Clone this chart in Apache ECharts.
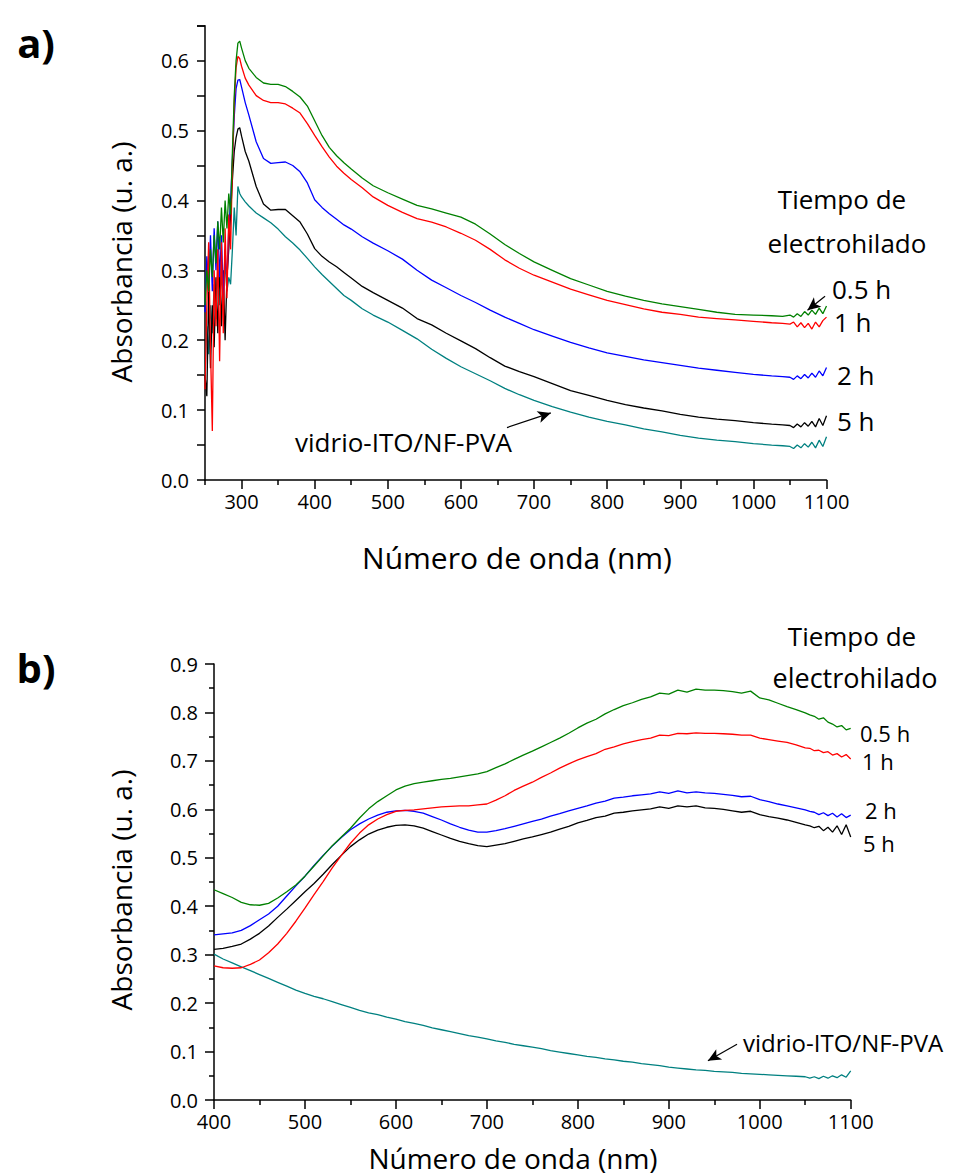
<!DOCTYPE html>
<html>
<head>
<meta charset="utf-8">
<title>Absorbancia vs número de onda</title>
<script src="https://cdn.jsdelivr.net/npm/echarts@6/dist/echarts.min.js"></script>
<style>
  html, body { margin: 0; padding: 0; background: #fff; }
  #chart { width: 954px; height: 1176px; }
</style>
</head>
<body>
<div id="chart"></div>
<script>
// ---- panel a) datos ----
const TOP_X = [250, 252.5, 255, 257.5, 260, 262.5, 265, 267.5, 270, 272.5, 275, 277.5, 280, 282.5, 285, 287.5, 290, 292.5, 295, 297.5,
  300, 305, 310,
  320, 330, 340, 350, 360, 370, 380, 390, 400, 410, 420, 430, 440, 450,
  465, 480,
  500, 520, 540, 560, 580, 600, 620, 640, 660, 680, 700,
  725, 750, 775, 800, 825, 850, 875, 900, 925, 950, 975, 1000, 1025,
  1040,
  1050, 1055, 1060, 1065, 1070, 1075, 1080, 1085, 1090, 1095, 1100]
const TOP_05H = [0.25, 0.30, 0.27, 0.33, 0.29, 0.35, 0.31, 0.37, 0.33, 0.39, 0.34, 0.40, 0.36, 0.41, 0.38, 0.47, 0.55, 0.60, 0.625, 0.628,
  0.618, 0.600, 0.589,
  0.576, 0.568, 0.566, 0.566, 0.563, 0.556, 0.548, 0.535, 0.514, 0.493, 0.476, 0.464, 0.454, 0.445,
  0.432, 0.421,
  0.411, 0.402, 0.393, 0.388, 0.382, 0.376, 0.366, 0.352, 0.337, 0.324, 0.312,
  0.300, 0.288, 0.279, 0.270, 0.263, 0.257, 0.252, 0.248, 0.244, 0.240, 0.237, 0.236, 0.235,
  0.234,
  0.236, 0.233, 0.238, 0.234, 0.241, 0.236, 0.243, 0.237, 0.246, 0.238, 0.249]
const TOP_1H = [0.13, 0.25, 0.34, 0.19, 0.07, 0.30, 0.22, 0.33, 0.17, 0.34, 0.21, 0.36, 0.26, 0.38, 0.33, 0.45, 0.54, 0.59, 0.606, 0.603,
  0.592, 0.575, 0.565,
  0.550, 0.543, 0.540, 0.540, 0.538, 0.532, 0.525, 0.510, 0.493, 0.477, 0.462, 0.449, 0.439, 0.430,
  0.418, 0.405,
  0.393, 0.383, 0.374, 0.369, 0.362, 0.353, 0.343, 0.330, 0.315, 0.303, 0.293,
  0.283, 0.273, 0.265, 0.257, 0.251, 0.245, 0.240, 0.237, 0.233, 0.231, 0.229, 0.227, 0.225,
  0.224,
  0.223, 0.226, 0.219, 0.225, 0.218, 0.224, 0.216, 0.226, 0.219, 0.228, 0.233]
const TOP_2H = [0.24, 0.32, 0.28, 0.35, 0.27, 0.36, 0.30, 0.37, 0.29, 0.35, 0.26, 0.33, 0.28, 0.36, 0.40, 0.46, 0.52, 0.56, 0.572, 0.573,
  0.562, 0.540, 0.522,
  0.484, 0.460, 0.453, 0.454, 0.455, 0.450, 0.441, 0.425, 0.401, 0.390, 0.381, 0.373, 0.365, 0.359,
  0.348, 0.339,
  0.328, 0.316, 0.300, 0.286, 0.275, 0.264, 0.254, 0.243, 0.233, 0.224, 0.215,
  0.206, 0.197, 0.189, 0.182, 0.177, 0.172, 0.168, 0.164, 0.160, 0.157, 0.154, 0.151, 0.149,
  0.148,
  0.147, 0.144, 0.149, 0.145, 0.151, 0.146, 0.153, 0.147, 0.156, 0.149, 0.161]
const TOP_5H = [0.15, 0.12, 0.27, 0.16, 0.25, 0.19, 0.29, 0.21, 0.31, 0.22, 0.30, 0.20, 0.29, 0.33, 0.38, 0.43, 0.47, 0.49, 0.502, 0.504,
  0.492, 0.470, 0.456,
  0.420, 0.395, 0.386, 0.387, 0.387, 0.378, 0.369, 0.352, 0.331, 0.320, 0.312, 0.305, 0.297, 0.289,
  0.277, 0.268,
  0.257, 0.246, 0.231, 0.222, 0.210, 0.199, 0.188, 0.175, 0.163, 0.155, 0.148,
  0.138, 0.128, 0.121, 0.114, 0.108, 0.103, 0.099, 0.094, 0.090, 0.087, 0.085, 0.082, 0.080,
  0.079,
  0.078, 0.075, 0.080, 0.076, 0.082, 0.077, 0.084, 0.076, 0.088, 0.078, 0.092]
const TOP_PVA = [0.15, 0.22, 0.18, 0.25, 0.21, 0.28, 0.23, 0.30, 0.25, 0.29, 0.27, 0.31, 0.27, 0.29, 0.28, 0.33, 0.39, 0.35, 0.42, 0.41,
  0.405, 0.398, 0.392,
  0.382, 0.375, 0.368, 0.359, 0.348, 0.339, 0.329, 0.317, 0.305, 0.294, 0.284, 0.274, 0.264, 0.257,
  0.245, 0.236,
  0.226, 0.214, 0.202, 0.187, 0.174, 0.162, 0.152, 0.142, 0.131, 0.122, 0.114,
  0.105, 0.097, 0.090, 0.084, 0.079, 0.073, 0.069, 0.064, 0.060, 0.057, 0.055, 0.052, 0.050,
  0.049,
  0.048, 0.045, 0.050, 0.046, 0.052, 0.047, 0.054, 0.046, 0.057, 0.048, 0.062]
const TOP_X_TICKS = [300, 400, 500, 600, 700, 800, 900, 1000, 1100]
const TOP_X_MINOR = [250, 350, 450, 550, 650, 750, 850, 950, 1050]

// ---- panel b) datos ----
const BOT_X = [400, 410, 420, 430, 440, 450, 460, 470, 480, 490,
  500, 510, 520, 530, 540, 550, 560, 570, 580, 590,
  600, 610, 620, 630, 640, 650, 660, 670, 680, 690,
  700, 710, 720, 730, 740, 750, 760, 770, 780, 790,
  800, 810, 820, 830, 840, 850, 860, 870, 880, 890,
  900, 910, 920, 930, 940, 950, 960, 970, 980, 990,
  1000, 1010, 1020, 1030, 1040, 1050,
  1055, 1060, 1065, 1070, 1075, 1080, 1085, 1090, 1095, 1100]
const BOT_05H = [0.434, 0.426, 0.418, 0.408, 0.403, 0.402, 0.406, 0.417, 0.430, 0.444,
  0.462, 0.483, 0.504, 0.525, 0.543, 0.561, 0.582, 0.601, 0.616, 0.628,
  0.640, 0.648, 0.653, 0.656, 0.659, 0.662, 0.664, 0.667, 0.670, 0.673,
  0.678, 0.686, 0.694, 0.703, 0.712, 0.720, 0.729, 0.738, 0.747, 0.757,
  0.768, 0.778, 0.786, 0.797, 0.806, 0.814, 0.820, 0.827, 0.832, 0.840,
  0.838, 0.846, 0.842, 0.848, 0.846, 0.846, 0.845, 0.843, 0.840, 0.844,
  0.830, 0.826, 0.819, 0.812, 0.806, 0.799,
  0.795, 0.792, 0.786, 0.789, 0.780, 0.776, 0.770, 0.773, 0.764, 0.767]
const BOT_1H = [0.277, 0.273, 0.272, 0.273, 0.280, 0.289, 0.304, 0.322, 0.344, 0.369,
  0.396, 0.424, 0.451, 0.479, 0.505, 0.530, 0.551, 0.568, 0.580, 0.589,
  0.596, 0.598, 0.599, 0.601, 0.603, 0.605, 0.606, 0.607, 0.607, 0.609,
  0.611, 0.619, 0.628, 0.639, 0.648, 0.656, 0.666, 0.675, 0.685, 0.694,
  0.702, 0.709, 0.715, 0.724, 0.729, 0.735, 0.740, 0.744, 0.747, 0.753,
  0.752, 0.757, 0.756, 0.758, 0.757, 0.757, 0.756, 0.755, 0.753, 0.753,
  0.747, 0.744, 0.741, 0.738, 0.733, 0.727,
  0.726, 0.721, 0.722, 0.717, 0.719, 0.712, 0.715, 0.708, 0.713, 0.704]
const BOT_2H = [0.341, 0.343, 0.345, 0.350, 0.360, 0.372, 0.384, 0.400, 0.421, 0.442,
  0.462, 0.484, 0.505, 0.524, 0.542, 0.558, 0.570, 0.580, 0.588, 0.594,
  0.597, 0.598, 0.596, 0.592, 0.585, 0.578, 0.570, 0.563, 0.557, 0.553,
  0.553, 0.556, 0.560, 0.565, 0.570, 0.575, 0.580, 0.586, 0.591, 0.597,
  0.602, 0.607, 0.613, 0.617, 0.623, 0.625, 0.628, 0.630, 0.632, 0.636,
  0.633, 0.638, 0.634, 0.636, 0.634, 0.633, 0.631, 0.629, 0.626, 0.627,
  0.620, 0.616, 0.611, 0.607, 0.603, 0.599,
  0.596, 0.594, 0.589, 0.593, 0.587, 0.592, 0.584, 0.591, 0.583, 0.588]
const BOT_5H = [0.311, 0.313, 0.317, 0.322, 0.332, 0.344, 0.359, 0.377, 0.394, 0.412,
  0.430, 0.447, 0.466, 0.486, 0.505, 0.523, 0.537, 0.549, 0.557, 0.563,
  0.567, 0.568, 0.566, 0.561, 0.554, 0.547, 0.540, 0.534, 0.529, 0.525,
  0.523, 0.526, 0.529, 0.534, 0.539, 0.543, 0.548, 0.553, 0.559, 0.565,
  0.572, 0.577, 0.583, 0.586, 0.592, 0.594, 0.597, 0.599, 0.601, 0.605,
  0.602, 0.607, 0.605, 0.607, 0.603, 0.602, 0.600, 0.597, 0.594, 0.596,
  0.589, 0.585, 0.582, 0.578, 0.573, 0.568,
  0.566, 0.562, 0.565, 0.556, 0.563, 0.553, 0.566, 0.548, 0.568, 0.543]
const BOT_PVA = [0.301, 0.291, 0.283, 0.275, 0.267, 0.259, 0.251, 0.243, 0.235, 0.227,
  0.220, 0.214, 0.209, 0.203, 0.197, 0.191, 0.185, 0.180, 0.176, 0.171,
  0.167, 0.162, 0.158, 0.154, 0.149, 0.145, 0.141, 0.137, 0.133, 0.130,
  0.126, 0.122, 0.119, 0.115, 0.112, 0.109, 0.106, 0.102, 0.099, 0.096,
  0.093, 0.090, 0.088, 0.085, 0.083, 0.080, 0.078, 0.075, 0.073, 0.071,
  0.068, 0.066, 0.064, 0.062, 0.061, 0.059, 0.058, 0.057, 0.055, 0.054,
  0.053, 0.052, 0.051, 0.050, 0.049, 0.048,
  0.045, 0.048, 0.044, 0.049, 0.045, 0.050, 0.046, 0.052, 0.047, 0.060]

// flechas (en coordenadas de datos): [desde, hasta]
const ARROW_TOP_05H = [[1098, 0.263], [1074, 0.243]]
const ARROW_TOP_PVA = [[663, 0.075], [723, 0.096]]
const ARROW_BOT_PVA = [[975, 0.115], [943, 0.081]]

const FONT = "'Open Sans', 'Noto Sans', sans-serif"
const COLORS = { h05: '#008000', h1: '#ff0000', h2: '#0000ff', h5: '#000000', pva: '#008080' }

const pair = (xs, ys) => xs.map((x, i) => [x, ys[i]])
const oneDecimal = v => (Math.abs(v * 10 - Math.round(v * 10)) < 1e-6 ? v.toFixed(1) : '')
const plainInt = v => String(Math.round(v))

const chartInstance = echarts.init(document.getElementById('chart'), null, { renderer: 'svg' })

const arrowLine = pts => ({
  silent: true,
  symbol: ['none', 'arrow'],
  symbolSize: [9, 13],
  label: { show: false },
  lineStyle: { color: '#000', width: 1.2, type: 'solid' },
  emphasis: { disabled: true },
  data: [[{ coord: pts[0] }, { coord: pts[1] }]]
})

const lineSeries = (name, data, color, xi, yi, extra) =>
  Object.assign(
    {
      name,
      type: 'line',
      xAxisIndex: xi,
      yAxisIndex: yi,
      data,
      showSymbol: false,
      symbol: 'none',
      lineStyle: { color, width: 1.3 },
      itemStyle: { color },
      z: 3
    },
    extra || {}
  )

const axisText = { color: '#000', fontFamily: FONT, fontSize: 20 }
const blackLine = { show: true, onZero: false, lineStyle: { color: '#000', width: 1.5 } }

const text = (t, x, y, size, opts) => ({
  type: 'text',
  x,
  y,
  rotation: (opts && opts.rotation) || 0,
  style: {
    text: t,
    fill: '#000',
    fontFamily: FONT,
    fontSize: size,
    fontWeight: (opts && opts.bold) ? 'bold' : 'normal',
    align: (opts && opts.align) || 'center',
    verticalAlign: 'middle'
  }
})

let initOption = {
  animation: false,
  backgroundColor: '#fff',
  grid: [
    { left: 205, top: 25.7, width: 621.5, height: 454.3 },
    { left: 214, top: 664, width: 636.7, height: 436 }
  ],
  xAxis: [
    {
      // eje x del panel a): marcas mayores y etiquetas
      type: 'value',
      gridIndex: 0,
      position: 'bottom',
      min: 250,
      max: 1100,
      axisLine: blackLine,
      axisTick: { show: true, customValues: TOP_X_TICKS, length: 9, lineStyle: { color: '#000', width: 1.5 } },
      axisLabel: Object.assign({ customValues: TOP_X_TICKS, margin: 11, formatter: plainInt }, axisText),
      splitLine: { show: false }
    },
    {
      // marcas menores del panel a)
      type: 'value',
      gridIndex: 0,
      position: 'bottom',
      min: 250,
      max: 1100,
      axisLine: { show: false, onZero: false },
      axisTick: { show: true, customValues: TOP_X_MINOR, length: 5, lineStyle: { color: '#000', width: 1.5 } },
      axisLabel: { show: false },
      splitLine: { show: false }
    },
    {
      type: 'value',
      gridIndex: 1,
      position: 'bottom',
      min: 400,
      max: 1100,
      interval: 100,
      axisLine: blackLine,
      axisTick: { show: true, length: 9, lineStyle: { color: '#000', width: 1.5 } },
      minorTick: { show: true, splitNumber: 2, length: 5, lineStyle: { color: '#000', width: 1.5 } },
      axisLabel: Object.assign({ margin: 11, formatter: plainInt }, axisText),
      splitLine: { show: false }
    }
  ],
  yAxis: [
    {
      type: 'value',
      gridIndex: 0,
      min: 0,
      max: 0.65,
      interval: 0.1,
      axisLine: blackLine,
      axisTick: { show: true, length: 8, lineStyle: { color: '#000', width: 1.5 } },
      minorTick: { show: true, splitNumber: 2, length: 8, lineStyle: { color: '#000', width: 1.5 } },
      axisLabel: Object.assign({ margin: 16, formatter: oneDecimal }, axisText),
      splitLine: { show: false }
    },
    {
      type: 'value',
      gridIndex: 1,
      min: 0,
      max: 0.9,
      interval: 0.1,
      axisLine: blackLine,
      axisTick: { show: true, length: 9, lineStyle: { color: '#000', width: 1.5 } },
      minorTick: { show: true, splitNumber: 2, length: 5, lineStyle: { color: '#000', width: 1.5 } },
      axisLabel: Object.assign({ margin: 16, formatter: oneDecimal }, axisText),
      splitLine: { show: false }
    }
  ],
  series: [
    lineSeries('vidrio-ITO/NF-PVA', pair(TOP_X, TOP_PVA), COLORS.pva, 0, 0, { markLine: arrowLine(ARROW_TOP_PVA) }),
    lineSeries('5 h', pair(TOP_X, TOP_5H), COLORS.h5, 0, 0),
    lineSeries('2 h', pair(TOP_X, TOP_2H), COLORS.h2, 0, 0),
    lineSeries('1 h', pair(TOP_X, TOP_1H), COLORS.h1, 0, 0),
    lineSeries('0.5 h', pair(TOP_X, TOP_05H), COLORS.h05, 0, 0, { markLine: arrowLine(ARROW_TOP_05H) }),

    lineSeries('vidrio-ITO/NF-PVA b', pair(BOT_X, BOT_PVA), COLORS.pva, 2, 1, { markLine: arrowLine(ARROW_BOT_PVA) }),
    lineSeries('5 h b', pair(BOT_X, BOT_5H), COLORS.h5, 2, 1),
    lineSeries('2 h b', pair(BOT_X, BOT_2H), COLORS.h2, 2, 1),
    lineSeries('1 h b', pair(BOT_X, BOT_1H), COLORS.h1, 2, 1),
    lineSeries('0.5 h b', pair(BOT_X, BOT_05H), COLORS.h05, 2, 1)
  ],
  graphic: [
    // panel a)
    text('a)', 36, 42, 40, { bold: true }),
    text('Absorbancia (u. a.)', 121, 262, 28, { rotation: Math.PI / 2 }),
    text('Número de onda (nm)', 517, 557, 30),
    text('Tiempo de', 842, 199, 26),
    text('electrohilado', 847, 243, 26),
    text('0.5 h', 832, 289, 26, { align: 'left' }),
    text('1 h', 834, 322, 26, { align: 'left' }),
    text('2 h', 837, 375, 26, { align: 'left' }),
    text('5 h', 837, 421, 26, { align: 'left' }),
    text('vidrio-ITO/NF-PVA', 512, 442, 26, { align: 'right' }),
    // panel b)
    text('b)', 36, 667, 40, { bold: true }),
    text('Absorbancia (u. a.)', 121, 890, 28, { rotation: Math.PI / 2 }),
    text('Número de onda (nm)', 513, 1158, 28),
    text('Tiempo de', 852, 636, 26),
    text('electrohilado', 855, 677, 27),
    text('0.5 h', 860, 733, 22, { align: 'left' }),
    text('1 h', 862, 761, 22, { align: 'left' }),
    text('2 h', 865, 810, 22, { align: 'left' }),
    text('5 h', 863, 843, 22, { align: 'left' }),
    text('vidrio-ITO/NF-PVA', 743, 1042, 24, { align: 'left' })
  ]
}
chartInstance.setOption(initOption)
</script>
</body>
</html>
